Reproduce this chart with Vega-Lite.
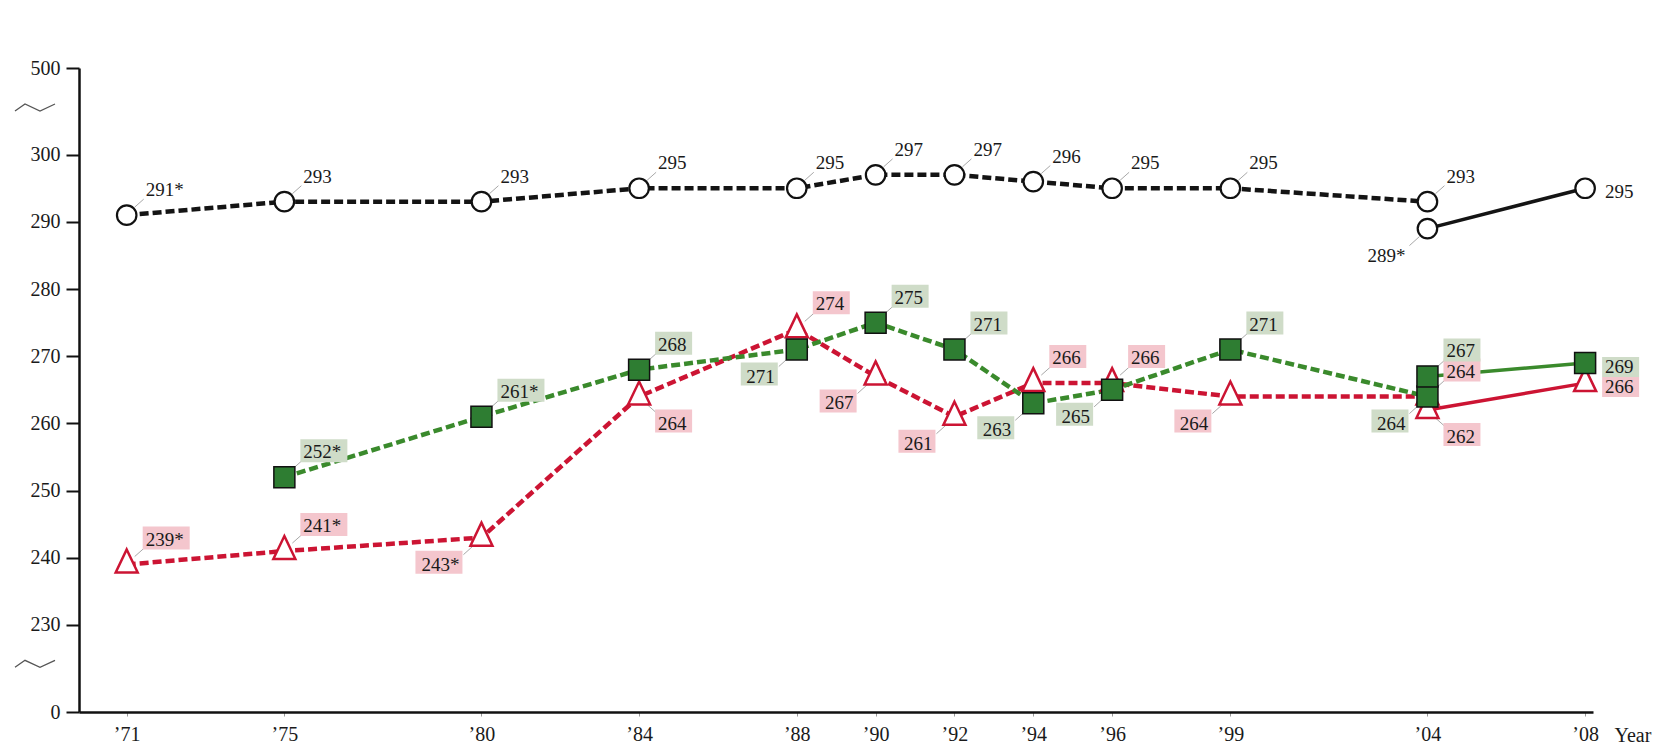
{
  "$schema": "https://vega.github.io/schema/vega-lite/v6.json",
  "autosize": {"type": "none"},
  "width": 1514,
  "height": 644,
  "padding": {"left": 79, "top": 68, "right": 76, "bottom": 35},
  "background": "white",
  "config": {
    "view": {"stroke": null},
    "font": "Liberation Serif",
    "axis": {
      "grid": false, "domainColor": "#111", "domainWidth": 2.5,
      "labelFont": "Liberation Serif", "labelFontSize": 20, "labelColor": "#1a1a1a",
      "labelFlush": false, "labelOverlap": false,
      "titleFont": "Liberation Serif", "titleFontSize": 20, "titleFontWeight": "normal", "titleColor": "#1a1a1a"
    },
    "axisX": {"tickColor": "#999", "tickSize": 4, "tickWidth": 1, "labelPadding": 8},
    "axisY": {"tickColor": "#111", "tickSize": 13, "tickWidth": 2, "labelPadding": 6}
  },
  "datasets": {
    "scores": [
      {"group": "White", "fmt": "original", "year": 1971, "score": 291, "sig": true},
      {"group": "White", "fmt": "original", "year": 1975, "score": 293, "sig": false},
      {"group": "White", "fmt": "original", "year": 1980, "score": 293, "sig": false},
      {"group": "White", "fmt": "original", "year": 1984, "score": 295, "sig": false},
      {"group": "White", "fmt": "original", "year": 1988, "score": 295, "sig": false},
      {"group": "White", "fmt": "original", "year": 1990, "score": 297, "sig": false},
      {"group": "White", "fmt": "original", "year": 1992, "score": 297, "sig": false},
      {"group": "White", "fmt": "original", "year": 1994, "score": 296, "sig": false},
      {"group": "White", "fmt": "original", "year": 1996, "score": 295, "sig": false},
      {"group": "White", "fmt": "original", "year": 1999, "score": 295, "sig": false},
      {"group": "White", "fmt": "original", "year": 2004, "score": 293, "sig": false},
      {"group": "White", "fmt": "revised", "year": 2004, "score": 289, "sig": true},
      {"group": "White", "fmt": "revised", "year": 2008, "score": 295, "sig": false},
      {"group": "Black", "fmt": "original", "year": 1971, "score": 239, "sig": true},
      {"group": "Black", "fmt": "original", "year": 1975, "score": 241, "sig": true},
      {"group": "Black", "fmt": "original", "year": 1980, "score": 243, "sig": true},
      {"group": "Black", "fmt": "original", "year": 1984, "score": 264, "sig": false},
      {"group": "Black", "fmt": "original", "year": 1988, "score": 274, "sig": false},
      {"group": "Black", "fmt": "original", "year": 1990, "score": 267, "sig": false},
      {"group": "Black", "fmt": "original", "year": 1992, "score": 261, "sig": false},
      {"group": "Black", "fmt": "original", "year": 1994, "score": 266, "sig": false},
      {"group": "Black", "fmt": "original", "year": 1996, "score": 266, "sig": false},
      {"group": "Black", "fmt": "original", "year": 1999, "score": 264, "sig": false},
      {"group": "Black", "fmt": "original", "year": 2004, "score": 264, "sig": false},
      {"group": "Black", "fmt": "revised", "year": 2004, "score": 262, "sig": false},
      {"group": "Black", "fmt": "revised", "year": 2008, "score": 266, "sig": false},
      {"group": "Hispanic", "fmt": "original", "year": 1975, "score": 252, "sig": true},
      {"group": "Hispanic", "fmt": "original", "year": 1980, "score": 261, "sig": true},
      {"group": "Hispanic", "fmt": "original", "year": 1984, "score": 268, "sig": false},
      {"group": "Hispanic", "fmt": "original", "year": 1988, "score": 271, "sig": false},
      {"group": "Hispanic", "fmt": "original", "year": 1990, "score": 275, "sig": false},
      {"group": "Hispanic", "fmt": "original", "year": 1992, "score": 271, "sig": false},
      {"group": "Hispanic", "fmt": "original", "year": 1994, "score": 263, "sig": false},
      {"group": "Hispanic", "fmt": "original", "year": 1996, "score": 265, "sig": false},
      {"group": "Hispanic", "fmt": "original", "year": 1999, "score": 271, "sig": false},
      {"group": "Hispanic", "fmt": "original", "year": 2004, "score": 264, "sig": false},
      {"group": "Hispanic", "fmt": "revised", "year": 2004, "score": 267, "sig": false},
      {"group": "Hispanic", "fmt": "revised", "year": 2008, "score": 269, "sig": false}
    ],
    "breaks": [{"year": 1969.79, "score": 307.1}, {"year": 1969.79, "score": 224.3}]
  },
  "data": {"name": "scores"},
  "encoding": {
    "x": {
      "field": "year", "type": "quantitative",
      "scale": {"domain": [1969.79, 2008.2], "nice": false, "zero": false},
      "axis": {
        "values": [1971, 1975, 1980, 1984, 1988, 1990, 1992, 1994, 1996, 1999, 2004, 2008],
        "labelExpr": "'’' + slice(toString(datum.value), 2)",
        "title": "Year",
        "titleX": 1535, "titleY": 29, "titleAlign": "left", "titleBaseline": "alphabetic", "titleAnchor": "start"
      }
    },
    "y": {
      "field": "score", "type": "quantitative",
      "scale": {"domain": [217.05, 312.9], "nice": false, "zero": false},
      "axis": {
        "values": [217.05, 230, 240, 250, 260, 270, 280, 290, 300, 312.9],
        "labelExpr": "datum.value > 310 ? '500' : datum.value < 220 ? '0' : datum.label",
        "title": null
      }
    }
  },
  "layer": [
    {
      "transform": [{"filter": "datum.fmt == 'original'"}],
      "mark": {"type": "line", "strokeWidth": 4.5, "strokeDash": [9, 4]},
      "encoding": {
        "color": {"field": "group", "type": "nominal", "scale": {"domain": ["White", "Black", "Hispanic"], "range": ["#141414", "#cc1433", "#3a8a2c"]}, "legend": null},
        "detail": {"field": "group"}
      }
    },
    {
      "transform": [{"filter": "datum.fmt == 'revised'"}],
      "mark": {"type": "line", "strokeWidth": 3.5},
      "encoding": {
        "color": {"field": "group", "type": "nominal", "legend": null},
        "detail": {"field": "group"}
      }
    },
    {
      "transform": [{"filter": "datum.year != 2008 && !((datum.group == 'White' && datum.fmt == 'revised' && datum.year == 2004) || (datum.group == 'Black' && indexof([1980, 1990, 1992, 1999], datum.year) >= 0) || (datum.group == 'Hispanic' && (indexof([1988, 1994, 1996], datum.year) >= 0 || (datum.year == 2004 && datum.fmt == 'original')))) && !(datum.group == 'Black' && (datum.year == 1984 || (datum.year == 2004 && datum.fmt == 'revised')))"}],
      "layer": [
        {"mark": {"type": "point", "shape": "M8,-8L17,-16", "size": 4, "filled": false, "stroke": "#a8a8a8", "strokeWidth": 1, "opacity": 1}},
        {"transform": [{"filter": "datum.group != 'White'"}],
         "mark": {"type": "point", "size": 4, "filled": true, "strokeWidth": 0, "opacity": 1,
           "shape": {"expr": "datum.sig ? 'M16,-38H63V-15H16Z' : 'M16,-38H53V-15H16Z'"},
           "fill": {"expr": "datum.group == 'Black' ? '#f4c6cd' : '#cfdcc8'"}}},
        {"mark": {"type": "text", "align": "left", "baseline": "alphabetic", "dx": 19, "dy": -19, "font": "Liberation Serif", "fontSize": 19, "fill": "#1a1a1a",
          "text": {"expr": "datum.score + (datum.sig ? '*' : '')"}}}
      ]
    },
    {
      "transform": [{"filter": "(datum.group == 'White' && datum.fmt == 'revised' && datum.year == 2004) || (datum.group == 'Black' && indexof([1980, 1990, 1992, 1999], datum.year) >= 0) || (datum.group == 'Hispanic' && (indexof([1988, 1994, 1996], datum.year) >= 0 || (datum.year == 2004 && datum.fmt == 'original')))"}],
      "layer": [
        {"mark": {"type": "point", "shape": "M-8,8L-18,17", "size": 4, "filled": false, "stroke": "#a8a8a8", "strokeWidth": 1, "opacity": 1}},
        {"transform": [{"filter": "datum.group != 'White'"}],
         "mark": {"type": "point", "size": 4, "filled": true, "strokeWidth": 0, "opacity": 1,
           "shape": {"expr": "datum.sig ? 'M-66,13H-19V36H-66Z' : 'M-56,13H-19V36H-56Z'"},
           "fill": {"expr": "datum.group == 'Black' ? '#f4c6cd' : '#cfdcc8'"}}},
        {"mark": {"type": "text", "align": "right", "baseline": "alphabetic", "dx": -22, "dy": 33, "font": "Liberation Serif", "fontSize": 19, "fill": "#1a1a1a",
          "text": {"expr": "datum.score + (datum.sig ? '*' : '')"}}}
      ]
    },
    {
      "transform": [{"filter": "datum.group == 'Black' && (datum.year == 1984 || (datum.year == 2004 && datum.fmt == 'revised'))"}],
      "layer": [
        {"mark": {"type": "point", "shape": "M8,8L17,16", "size": 4, "filled": false, "stroke": "#a8a8a8", "strokeWidth": 1, "opacity": 1}},
        {"mark": {"type": "point", "size": 4, "filled": true, "strokeWidth": 0, "opacity": 1,
           "shape": "M16,13H53V36H16Z", "fill": "#f4c6cd"}},
        {"mark": {"type": "text", "align": "left", "baseline": "alphabetic", "dx": 19, "dy": 33, "font": "Liberation Serif", "fontSize": 19, "fill": "#1a1a1a",
          "text": {"expr": "datum.score + (datum.sig ? '*' : '')"}}}
      ]
    },
    {
      "transform": [{"filter": "datum.year == 2008"}],
      "layer": [
        {"transform": [{"filter": "datum.group != 'White'"}],
         "mark": {"type": "point", "size": 4, "filled": true, "strokeWidth": 0, "opacity": 1,
           "shape": "M17,-6H54V14H17Z",
           "fill": {"expr": "datum.group == 'Black' ? '#f4c6cd' : '#cfdcc8'"}}},
        {"mark": {"type": "text", "align": "left", "baseline": "middle", "dx": 20, "dy": 4, "font": "Liberation Serif", "fontSize": 19, "fill": "#1a1a1a",
          "text": {"expr": "datum.score + (datum.sig ? '*' : '')"}}}
      ]
    },
    {
      "transform": [{"filter": "datum.group == 'White'"}],
      "mark": {"type": "point", "shape": "circle", "size": 380, "filled": true, "fill": "white", "stroke": "#111", "strokeWidth": 2.2, "opacity": 1}
    },
    {
      "transform": [{"filter": "datum.group == 'Black'"}],
      "mark": {"type": "point", "shape": "M0,-15L11,8L-11,8Z", "size": 4, "filled": true, "fill": "white", "stroke": "#cc1433", "strokeWidth": 2.5, "opacity": 1}
    },
    {
      "transform": [{"filter": "datum.group == 'Hispanic'"}],
      "mark": {"type": "point", "shape": "square", "size": 441, "filled": true, "fill": "#2e7d32", "stroke": "#111", "strokeWidth": 1.5, "opacity": 1}
    },
    {
      "data": {"name": "breaks"},
      "mark": {"type": "point", "shape": "M-64,4L-54,-3L-39,4L-24,-3", "size": 4, "filled": false, "stroke": "#555", "strokeWidth": 1.3, "opacity": 1}
    }
  ]
}
